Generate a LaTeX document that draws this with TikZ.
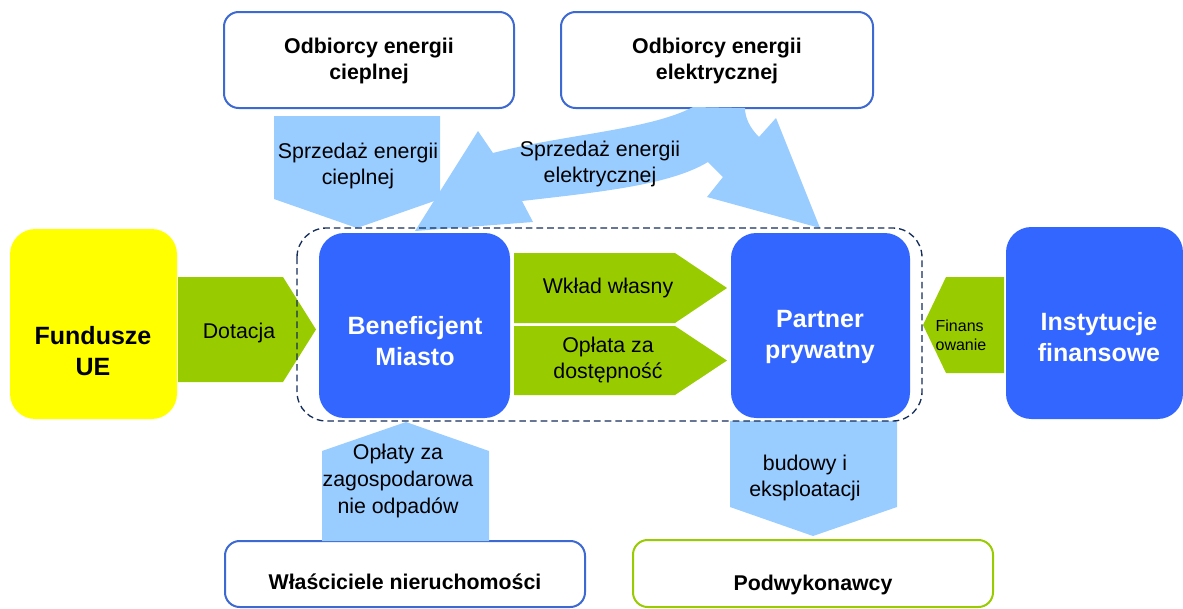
\documentclass[tikz,border=0pt]{standalone}
\usepackage{fontspec}
\setmainfont{Liberation Sans}
\definecolor{bigblue}{RGB}{51,102,255}
\definecolor{lightblue}{RGB}{153,204,255}
\definecolor{leaf}{RGB}{153,204,0}
\definecolor{sun}{RGB}{255,255,0}
\definecolor{edgeblue}{RGB}{60,105,210}
\definecolor{navy}{RGB}{20,45,90}
\begin{document}
\begin{tikzpicture}[x=0.75pt,y=-0.75pt,
  outlinebox/.style={draw=edgeblue, line width=1.5pt, rounded corners=11pt, fill=white},
  greenbox/.style={draw=leaf, line width=1.5pt, rounded corners=11pt, fill=white},
  bigbox/.style={fill=bigblue, rounded corners=19pt},
  flow/.style={fill=lightblue},
  gflow/.style={fill=leaf},
  txt/.style={align=center, font=\fontsize{16}{20}\selectfont, inner sep=0pt},
  btxt/.style={align=center, font=\bfseries\fontsize{16}{20}\selectfont, inner sep=0pt},
  bigtxt/.style={align=center, font=\bfseries\fontsize{18.75}{23}\selectfont, inner sep=0pt},
  smalltxt/.style={align=left, font=\fontsize{12}{14}\selectfont, inner sep=0pt}
]
\useasboundingbox (0,0) rectangle (1183,608);

% top boxes
\path[outlinebox] (224,12) rectangle (514,108);
\node[btxt] (odbc) at (369,61) {Odbiorcy energii\\cieplnej};
\path[outlinebox] (561,12) rectangle (873,108);
\node[btxt] (odbe) at (717,61) {Odbiorcy energii\\elektrycznej};

% bottom boxes
\path[outlinebox] (225,541) rectangle (585,607);
\node[btxt] (wlasc) at (405,582) {Właściciele nieruchomości};
\path[greenbox] (633,540) rectangle (993,607);
\node[btxt] (podw) at (813,585) {Podwykonawcy};

% flow arrows (light blue)
\path[flow] (274,116) -- (440,116) -- (440,199) -- (357,228) -- (274,199) -- cycle;
\path[flow] (693,107) .. controls (650,130) and (560,135) .. (493,153)
  -- (478,131) -- (415,231) -- (533,222) -- (522,201)
  .. controls (600,192) and (670,185) .. (708,162)
  -- (723,177) -- (707,197) -- (820,228) -- (776,118) -- (759,137)
  .. controls (750,128) and (745,118) .. (745,108) -- cycle;
\path[flow] (322,541) -- (322,451) -- (406,422) -- (489,451) -- (489,541) -- cycle;
\path[flow] (730,421) -- (897,421) -- (897,507) -- (813,536) -- (730,507) -- cycle;

\node[txt] (sprc) at (358,166) {Sprzedaż energii\\cieplnej};
\node[txt] (spre) at (600,164) {Sprzedaż energii\\elektrycznej};
\node[txt] (oplaty) at (398,481) {Opłaty za\\zagospodarowa\\nie odpadów};
\node[txt] (budowy) at (805,478) {budowy i\\eksploatacji};

% green arrows
\path[gflow] (178,277) -- (283,277) -- (316,329.5) -- (283,382) -- (178,382) -- cycle;
\node[txt] (dot) at (239,333) {Dotacja};
\path[gflow] (514,253) -- (675,253) -- (727,288) -- (675,323) -- (514,323) -- cycle;
\node[txt] (wklad) at (608,288) {Wkład własny};
\path[gflow] (514,326) -- (675,326) -- (727,360.5) -- (675,395) -- (514,395) -- cycle;
\node[txt] (oplata) at (608,360) {Opłata za\\dostępność};
\path[gflow] (1004,277) -- (946,277) -- (923,325) -- (946,373) -- (1004,373) -- cycle;
\node[smalltxt] (fin) at (961,335) {Finans\\owanie};

% main boxes
\path[fill=sun, rounded corners=19pt] (10,229) rectangle (177,419);
\node[bigtxt] (fund) at (93,351) {Fundusze\\UE};
\path[bigbox] (319,233) rectangle (510,418);
\node[bigtxt, text=white] (benef) at (415,341) {Beneficjent\\Miasto};
\path[bigbox] (731,233) rectangle (910,418);
\node[bigtxt, text=white] (partner) at (820,337) {Partner\\prywatny};
\path[bigbox] (1006,227) rectangle (1183,419);
\node[bigtxt, text=white] (inst) at (1099,337) {Instytucje\\finansowe};

% dashed grouping
\draw[navy, line width=1pt, dash pattern=on 5pt off 3pt, rounded corners=22pt] (297,228) rectangle (922,421);
\end{tikzpicture}
\end{document}
